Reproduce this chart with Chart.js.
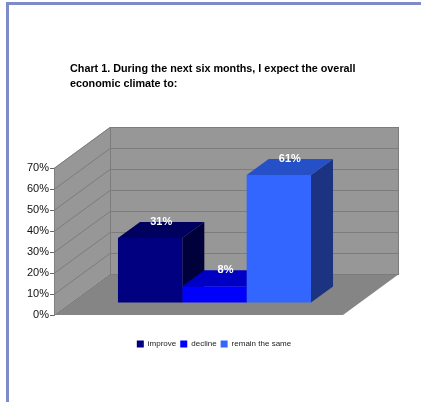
<!DOCTYPE html>
<html>
<head>
<meta charset="utf-8">
<script src="https://cdn.jsdelivr.net/npm/chart.js@4.4.1/dist/chart.umd.min.js"></script>
<style>
  html, body { margin: 0; padding: 0; background: #fff; }
  #wrap { position: relative; width: 421px; height: 402px; overflow: hidden; }
  #frame {
    position: absolute; left: 6px; top: 2px; right: 0; bottom: 0;
    border-left: 3px solid #7d8cc8; border-top: 3px solid #7d8cc8;
    pointer-events: none;
  }
  #c { position: absolute; left: 0; top: 0; }
</style>
</head>
<body>
<div id="wrap">
  <div id="frame"></div>
  <canvas id="c" width="421" height="402"></canvas>
</div>
<script>
// ---- data ----
const categories = [''];
const seriesNames = ['improve', 'decline', 'remain the same'];
const improveValues = [31];
const declineValues = [8];
const remainValues = [61];
const yMin = 0;
const yMax = 70;
const yStep = 10;
const titleLines = [
  'Chart 1. During the next six months, I expect the overall',
  'economic climate to:'
];

// ---- 3D look ----
const FRONT = ['#000080', '#0000ff', '#3366ff'];
const TOPS  = ['#00005e', '#0000c4', '#2650c8'];
const SIDES = ['#00003a', '#000099', '#1b3380'];
const WALL_DEPTH = { x: 56, y: -41 };   // depth of floor and side wall
const BAR_SHIFT  = { x: 16, y: -12 };   // bars stand inside the floor
const BAR_DEPTH  = { x: 22, y: -16 };
const WALL = '#979797';
const FLOOR = '#858585';
const GRID = '#7c7c7c';

const FONT = '"Liberation Sans", Arial, sans-serif';
Chart.defaults.font.family = FONT;

function poly(ctx, pts, fill, stroke) {
  ctx.beginPath();
  ctx.moveTo(pts[0][0], pts[0][1]);
  for (let i = 1; i < pts.length; i++) ctx.lineTo(pts[i][0], pts[i][1]);
  ctx.closePath();
  if (fill) { ctx.fillStyle = fill; ctx.fill(); }
  if (stroke) { ctx.strokeStyle = stroke; ctx.lineWidth = 1; ctx.stroke(); }
}

const box3d = {
  id: 'box3d',
  beforeDraw(chart) {
    const { ctx, chartArea: a, scales: { y } } = chart;
    const dx = WALL_DEPTH.x, dy = WALL_DEPTH.y;
    ctx.save();
    // floor
    poly(ctx, [[a.left, a.bottom], [a.right, a.bottom], [a.right + dx, a.bottom + dy], [a.left + dx, a.bottom + dy]], FLOOR);
    // side wall
    poly(ctx, [[a.left, a.top], [a.left + dx, a.top + dy], [a.left + dx, a.bottom + dy], [a.left, a.bottom]], WALL);
    // back wall
    poly(ctx, [[a.left + dx, a.top + dy], [a.right + dx, a.top + dy], [a.right + dx, a.bottom + dy], [a.left + dx, a.bottom + dy]], WALL);
    // grid lines on both walls
    ctx.strokeStyle = GRID;
    ctx.lineWidth = 1;
    y.ticks.forEach(t => {
      const py = Math.round(y.getPixelForValue(t.value)) + 0.5;
      ctx.beginPath();
      ctx.moveTo(a.left, py);
      ctx.lineTo(a.left + dx, py + dy);
      ctx.lineTo(a.right + dx, py + dy);
      ctx.stroke();
    });
    // wall edges
    ctx.beginPath();
    ctx.moveTo(a.left + dx + 0.5, a.top + dy);
    ctx.lineTo(a.left + dx + 0.5, a.bottom + dy);
    ctx.moveTo(a.right + dx - 0.5, a.top + dy);
    ctx.lineTo(a.right + dx - 0.5, a.bottom + dy);
    ctx.stroke();
    // title
    ctx.fillStyle = '#000';
    ctx.font = 'bold 10.8px ' + FONT;
    ctx.textAlign = 'left';
    ctx.textBaseline = 'alphabetic';
    ctx.fillText(titleLines[0], 70, 71.5);
    ctx.fillText(titleLines[1], 70, 87);
    ctx.restore();
  },
  beforeDatasetsDraw(chart) {
    const { ctx } = chart;
    const sx = BAR_SHIFT.x, sy = BAR_SHIFT.y, bx = BAR_DEPTH.x, by = BAR_DEPTH.y;
    ctx.save();
    chart.data.datasets.forEach((ds, i) => {
      chart.getDatasetMeta(i).data.forEach(bar => {
        const p = bar.getProps(['x', 'y', 'base', 'width'], true);
        const l = p.x - p.width / 2 + sx, r = p.x + p.width / 2 + sx;
        const t = p.y + sy, b = p.base + sy;
        poly(ctx, [[r, t], [r + bx, t + by], [r + bx, b + by], [r, b]], SIDES[i]);
        poly(ctx, [[l, t], [r, t], [r + bx, t + by], [l + bx, t + by]], TOPS[i]);
      });
    });
    ctx.restore();
    // the front faces drawn by the bar controller sit on the same inner plane
    ctx.save();
    ctx.translate(sx, sy);
  },
  afterDatasetsDraw(chart) {
    const { ctx } = chart;
    ctx.restore();
    ctx.save();
    ctx.fillStyle = '#fff';
    ctx.font = 'bold 11px ' + FONT;
    ctx.textAlign = 'center';
    ctx.textBaseline = 'middle';
    chart.data.datasets.forEach((ds, i) => {
      chart.getDatasetMeta(i).data.forEach((bar, j) => {
        const p = bar.getProps(['x', 'y'], true);
        ctx.fillText(ds.data[j] + '%', p.x + BAR_SHIFT.x + BAR_DEPTH.x / 2, p.y + BAR_SHIFT.y + BAR_DEPTH.y);
      });
    });
    ctx.restore();
  }
};

new Chart(document.getElementById('c'), {
  type: 'bar',
  data: {
    labels: categories,
    datasets: [
      { label: seriesNames[0], data: improveValues, backgroundColor: FRONT[0], borderWidth: 0 },
      { label: seriesNames[1], data: declineValues, backgroundColor: FRONT[1], borderWidth: 0 },
      { label: seriesNames[2], data: remainValues,  backgroundColor: FRONT[2], borderWidth: 0 }
    ]
  },
  options: {
    responsive: false,
    animation: false,
    devicePixelRatio: 1,
    barPercentage: 1,
    categoryPercentage: 0.668,
    layout: { padding: { left: 7, right: 0, top: 168, bottom: 44 } },
    plugins: {
      title: { display: false },
      tooltip: { enabled: false },
      legend: {
        position: 'bottom',
        labels: {
          boxWidth: 7, boxHeight: 7, padding: 4,
          color: '#222',
          font: { size: 8 }
        }
      }
    },
    scales: {
      x: {
        ticks: { display: false },
        grid: { display: false },
        border: { display: false },
        afterFit: s => { s.height = 21; }
      },
      y: {
        min: yMin, max: yMax,
        ticks: {
          stepSize: yStep,
          padding: 1,
          color: '#111',
          font: { size: 11 },
          callback: v => v + '%'
        },
        grid: { drawOnChartArea: false, drawTicks: true, tickLength: 4, color: '#666' },
        border: { display: true, color: '#808080' },
        afterFit: s => { s.width = 47; }
      },
      yRight: {
        position: 'right',
        ticks: { display: false },
        grid: { display: false },
        border: { display: false },
        afterFit: s => { s.width = 78; }
      }
    }
  },
  plugins: [box3d]
});
</script>
</body>
</html>
